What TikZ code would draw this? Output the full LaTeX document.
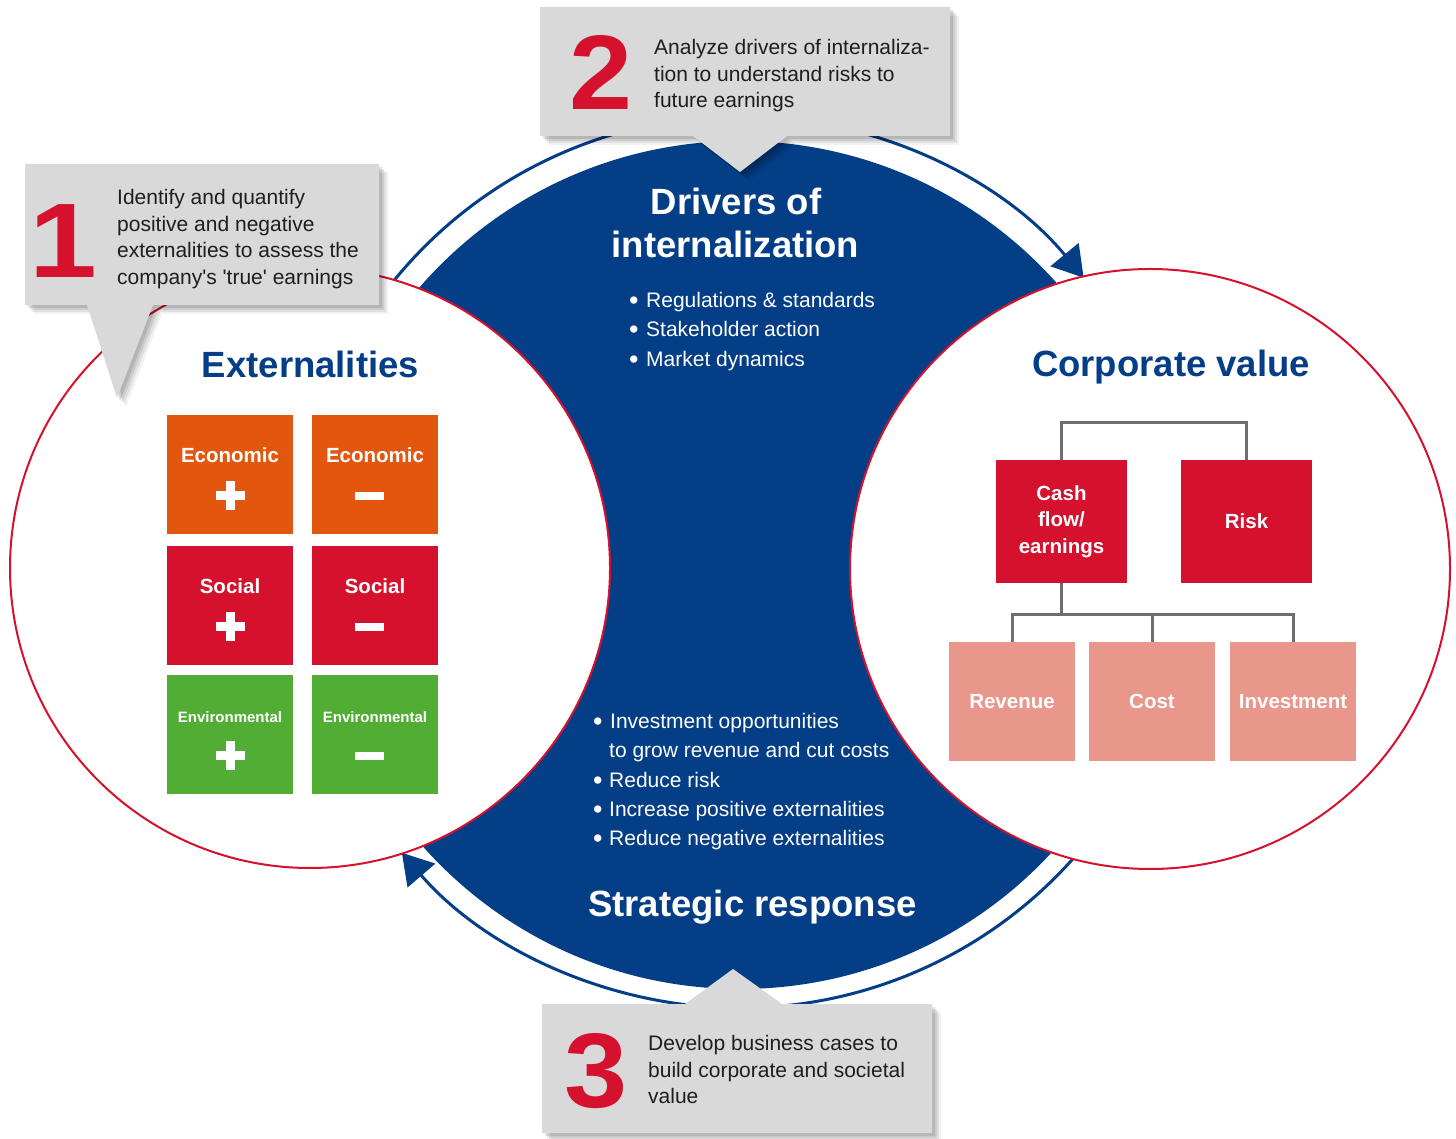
\documentclass[tikz,border=0pt]{standalone}
\usepackage{fontspec}
\setmainfont{Liberation Sans}
\usetikzlibrary{arrows.meta,shadows,calc}
\definecolor{kblue}{RGB}{4,62,135}
\definecolor{kred}{RGB}{213,17,45}
\definecolor{korange}{RGB}{227,86,14}
\definecolor{kgreen}{RGB}{82,173,53}
\definecolor{kpink}{RGB}{233,151,138}
\definecolor{kgray}{RGB}{217,217,217}
\definecolor{kline}{RGB}{110,110,110}
\definecolor{ktext}{RGB}{30,30,30}
\newcommand\kplus[1]{%
  \fill[white] ($(#1.north)+(-14.5,-85.5)$) rectangle ++(29,9);
  \fill[white] ($(#1.north)+(-4.5,-95.5)$) rectangle ++(9,29);}
\newcommand\kminus[1]{%
  \fill[white] ($(#1.north)+(-20,-85)$) rectangle ++(29,8);}
\newcommand\kbul[1]{\makebox[#1][l]{\raisebox{-1.8pt}{\fontsize{27}{26}\selectfont•}}}
\begin{document}
\begin{tikzpicture}[x=1pt,y=1pt,
  title/.style={font=\fontsize{36.5}{40}\selectfont\bfseries, anchor=base, inner sep=0pt},
  body/.style={font=\fontsize{21}{26}\selectfont, anchor=base west, inner sep=0pt},
  gbox/.style={minimum width=126pt, minimum height=119pt, inner sep=0pt},
  boxlbl/.style={font=\fontsize{20.5}{24}\selectfont\bfseries, text=white, anchor=base, inner sep=0pt},
  envlbl/.style={font=\fontsize{15}{18}\selectfont\bfseries, text=white, anchor=base, inner sep=0pt},
  tbox/.style={fill=kred, minimum width=131pt, minimum height=123pt, inner sep=0pt, text=white,
    font=\fontsize{20.5}{26.5}\selectfont\bfseries, align=center},
  pbox/.style={fill=kpink, minimum width=126pt, minimum height=119pt, inner sep=0pt, text=white,
    font=\fontsize{20.5}{26.5}\selectfont\bfseries},
  conn/.style={draw=kline, line width=3pt},
  bignum/.style={font=\fontsize{106}{106}\selectfont\bfseries, text=kred, anchor=base, inner sep=0pt},
  callout/.style={fill=kgray,
    drop shadow={shadow xshift=9pt, shadow yshift=-9pt, opacity=0.05, fill=black},
    drop shadow={shadow xshift=7pt, shadow yshift=-7pt, opacity=0.07, fill=black},
    drop shadow={shadow xshift=5pt, shadow yshift=-5pt, opacity=0.09, fill=black},
    drop shadow={shadow xshift=3pt, shadow yshift=-3pt, opacity=0.11, fill=black}},
  ring/.style={draw=kblue, line width=3pt, -{Triangle[length=30pt,width=36pt]}},
  vcirc/.style={circle, draw=kred, line width=2pt, fill=white, minimum size=600pt, inner sep=0pt}
]
\useasboundingbox (0,0) rectangle (1456,1138);

% central blue disc
\node[circle, fill=kblue, minimum size=848pt, inner sep=0pt] (drv) at (740,573) {};
% cycle arrows
\coordinate (rc) at (740,576);
\draw[ring] ($(rc)+(145:446)$) arc[start angle=145, end angle=39.6, radius=446];
\draw[ring] ($(rc)+(-35:446)$) arc[start angle=-35, end angle=-139.3, radius=446];
% white circles
\node[vcirc] (extc) at (310,570) {};
\node[vcirc] (corpc) at (1150,569) {};

% titles
\node[title, text=kblue] (extT) at (310.5,760) {Externalities};
\node[title, text=kblue] (corpT) at (1171,761) {Corporate value};
\node[title, text=white] (drvT1) at (736,923) {Drivers of};
\node[title, text=white] (drvT2) at (735.5,880) {internalization};
\node[title, text=white] (strT) at (752.5,221) {Strategic response};

% externalities grid
\node[gbox, fill=korange] (ecop) at (230,663.5) {};
\node[gbox, fill=korange] (ecom) at (375,663.5) {};
\node[gbox, fill=kred] (socp) at (230,532.5) {};
\node[gbox, fill=kred] (socm) at (375,532.5) {};
\node[gbox, fill=kgreen] (envp) at (230,403.5) {};
\node[gbox, fill=kgreen] (envm) at (375,403.5) {};
\node[boxlbl] (ecopL) at ($(ecop.north)+(0,-48)$) {Economic};
\node[boxlbl] (ecomL) at ($(ecom.north)+(0,-48)$) {Economic};
\node[boxlbl] (socpL) at ($(socp.north)+(0,-48)$) {Social};
\node[boxlbl] (socmL) at ($(socm.north)+(0,-48)$) {Social};
\node[envlbl] (envpL) at ($(envp.north)+(0,-48)$) {Environmental};
\node[envlbl] (envmL) at ($(envm.north)+(0,-48)$) {Environmental};
\kplus{ecop}
\kminus{ecom}
\kplus{socp}
\kminus{socm}
\kplus{envp}
\kminus{envm}

% corporate value tree
\node[tbox] (cash) at (1061.5,616.5) {Cash\\flow/\\earnings};
\node[tbox] (risk) at (1246.5,616.5) {Risk};
\node[pbox] (rev) at (1012,436.5) {Revenue};
\node[pbox] (cost) at (1152,436.5) {Cost};
\node[pbox] (inv) at (1293,436.5) {Investment};
\draw[conn] (cash.north) -- ++(0,37) -| (risk.north);
\coordinate (bj) at ($(cash.south)+(0,-31)$);
\draw[conn] (cash.south) -- (bj);
\draw[conn] (rev.north) |- (bj) -| (inv.north);
\draw[conn] (cost.north) -- (cost.north |- bj);

% bullets: drivers
\node[body, text=white] (d1) at (629,830) {\kbul{17pt}Regulations \& standards};
\node[body, text=white] (d2) at (629,801) {\kbul{17pt}Stakeholder action};
\node[body, text=white] (d3) at (629,771) {\kbul{17pt}Market dynamics};
% bullets: strategic response
\node[body, text=white] (s1) at (593,409) {\kbul{17pt}Investment opportunities};
\node[body, text=white] (s2) at (609,380) {to grow revenue and cut costs};
\node[body, text=white] (s3) at (593,350) {\kbul{16pt}Reduce risk};
\node[body, text=white] (s4) at (593,321) {\kbul{16pt}Increase positive externalities};
\node[body, text=white] (s5) at (593,292) {\kbul{16pt}Reduce negative externalities};

% callout 1
\path[callout] (25,974) -- (379,974) -- (379,833) -- (153,833) -- (117,740) -- (87,833) -- (25,833) -- cycle;
\node[bignum] (n1) at (63,860) {\scalebox{1.15}[1]{1}};
\node[body, text=ktext] (c1a) at (117,933) {Identify and quantify};
\node[body, text=ktext] (c1b) at (117,906) {positive and negative};
\node[body, text=ktext] (c1c) at (117,880) {externalities to assess the};
\node[body, text=ktext] (c1d) at (117,853) {company\textquotesingle s \textquotesingle true\textquotesingle\ earnings};

% callout 2
\path[callout] (540,1131) -- (950,1131) -- (950,1002) -- (787,1002) -- (740,966) -- (693,1002) -- (540,1002) -- cycle;
\node[bignum] (n2) at (601,1028) {\scalebox{1.07}[1]{2}};
\node[body, text=ktext] (c2a) at (654,1083) {Analyze drivers of internaliza-};
\node[body, text=ktext] (c2b) at (654,1056) {tion to understand risks to};
\node[body, text=ktext] (c2c) at (654,1030) {future earnings};

% callout 3
\path[callout] (542,134) -- (685,134) -- (733,169) -- (782,134) -- (932,134) -- (932,5) -- (542,5) -- cycle;
\node[bignum] (n3) at (596,31) {\scalebox{1.07}[1]{3}};
\node[body, text=ktext] (c3a) at (648,88) {Develop business cases to};
\node[body, text=ktext] (c3b) at (648,61) {build corporate and societal};
\node[body, text=ktext] (c3c) at (648,35) {value};
\end{tikzpicture}
\end{document}
